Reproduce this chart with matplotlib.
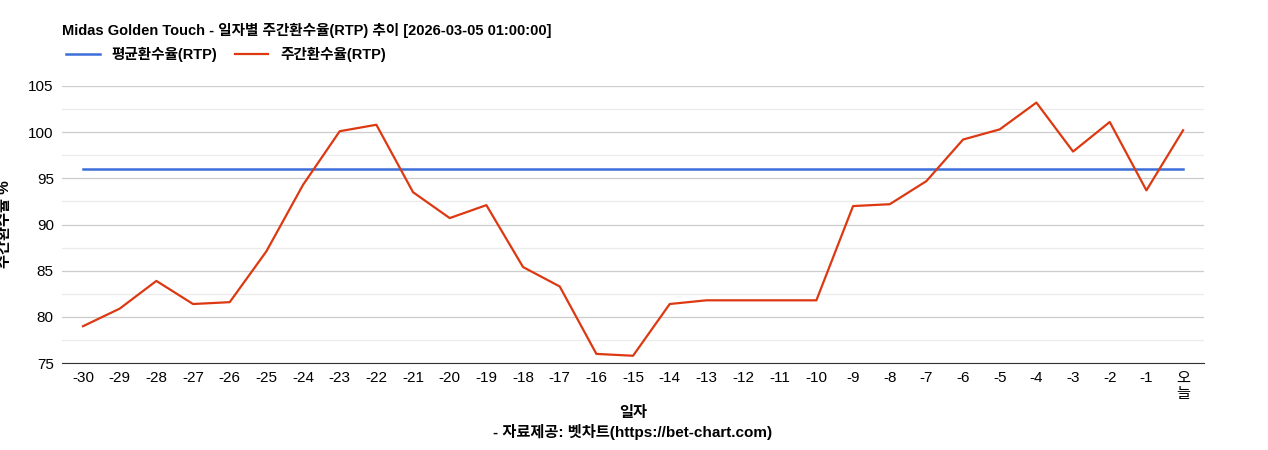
import matplotlib
matplotlib.use("Agg")
import matplotlib.pyplot as plt
from matplotlib.ticker import MultipleLocator

plt.rcParams['font.family'] = ['Liberation Sans', 'Noto Sans CJK KR', 'DejaVu Sans']

# 데이터
days = [str(d) for d in range(-30, 0)] + ["오\n늘"]
rtp = [79.0, 80.9, 83.9, 81.4, 81.6, 87.1, 94.3, 100.1, 100.8, 93.5,
       90.7, 92.1, 85.4, 83.3, 76.0, 75.8, 81.4, 81.8, 81.8, 81.8,
       81.8, 92.0, 92.2, 94.7, 99.2, 100.3, 103.2, 97.9, 101.1, 93.7, 100.2]
avg_rtp = 96.0

fig = plt.figure(figsize=(12.68, 4.5), dpi=100)
ax = fig.add_axes([0.049, 0.193, 0.9005, 0.616])

x = list(range(len(days)))
ax.plot(x, [avg_rtp] * len(x), color="#3c6fd8", lw=1.8, label="평균환수율(RTP)")
ax.plot(x, rtp, color="#dc3912", lw=1.6, label="주간환수율(RTP)")

ax.set_ylim(75, 105)
ax.set_xlim(-0.57, len(x) - 0.43)
ax.yaxis.set_major_locator(MultipleLocator(5))
ax.yaxis.set_minor_locator(MultipleLocator(2.5))
ax.grid(axis="y", which="major", color="#cccccc", lw=0.9)
ax.grid(axis="y", which="minor", color="#ebebeb", lw=0.9)
ax.set_axisbelow(True)
ax.set_xticks(x)
ax.set_xticklabels(days, fontsize=11, va="top", linespacing=1.1)
ax.tick_params(axis="both", which="both", length=0, labelsize=11, pad=6)
for s in ("top", "right", "left"):
    ax.spines[s].set_visible(False)
ax.spines["bottom"].set_color("#333333")

ax.set_ylabel("주간환수율 %", fontsize=11, fontweight="bold", labelpad=12)
ax.set_xlabel("일자\n- 자료제공: 벳차트(https://bet-chart.com)", fontsize=11,
              fontweight="bold", labelpad=4, linespacing=1.3)

fig.text(0.049, 0.932, "Midas Golden Touch - 일자별 주간환수율(RTP) 추이 [2026-03-05 01:00:00]",
         fontsize=10.5, fontweight="bold", va="center")
fig.legend(loc="center left", bbox_to_anchor=(0.042, 0.878), ncol=2, frameon=False,
           handlelength=2.3, columnspacing=1.2,
           prop={"weight": "bold", "size": 10.5})

fig.savefig("out.png", dpi=100)
